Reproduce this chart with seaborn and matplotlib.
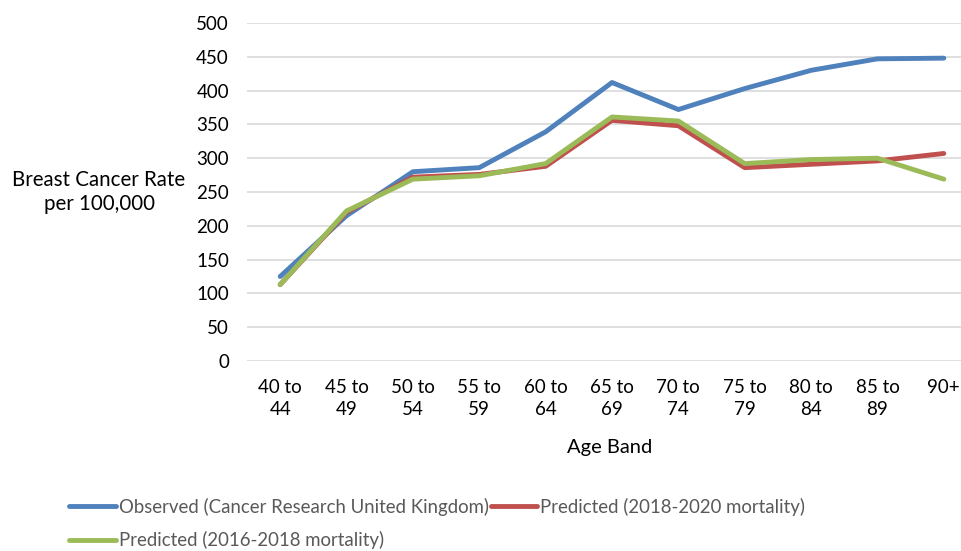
import numpy as np
import pandas as pd
import matplotlib
matplotlib.use("Agg")
import matplotlib.pyplot as plt
import seaborn as sns

# Age bands and breast cancer rates per 100,000
age_bands = ["40 to\n44", "45 to\n49", "50 to\n54", "55 to\n59", "60 to\n64",
             "65 to\n69", "70 to\n74", "75 to\n79", "80 to\n84", "85 to\n89", "90+"]
observed = [125, 215, 280, 286, 339, 412, 372, 403, 430, 447, 448]
predicted_2018_2020 = [113, 220, 272, 276, 288, 356, 348, 286, 291, 296, 307]
predicted_2016_2018 = [113, 222, 269, 274, 292, 361, 355, 292, 298, 300, 269]

series_names = ["Observed (Cancer Research United Kingdom)",
                "Predicted (2018-2020 mortality)",
                "Predicted (2016-2018 mortality)"]
colors = ["#4F81BD", "#C0504D", "#9BBB59"]
y_ticks = list(range(0, 501, 50))

frames = []
for name, vals in zip(series_names, [observed, predicted_2018_2020, predicted_2016_2018]):
    frames.append(pd.DataFrame({"pos": np.arange(len(age_bands)),
                                "band": age_bands, "rate": vals, "series": name}))
df = pd.concat(frames, ignore_index=True)

sns.set_theme(style="white")
plt.rcParams["font.family"] = ["Lato", "DejaVu Sans"]

fig = plt.figure(figsize=(9.62, 5.51), dpi=100)
ax = fig.add_axes([247 / 962, 190 / 551, 730 / 962, 338 / 551])

sns.lineplot(data=df, x="pos", y="rate", hue="series", hue_order=series_names,
             palette=colors, linewidth=3.5, ax=ax, sort=False,
             solid_capstyle="round", legend=False)

ax.set_xlim(-0.5, len(age_bands) - 0.5)
ax.set_ylim(0, 500)
ax.set_yticks(y_ticks)
ax.set_yticklabels([str(v) for v in y_ticks], fontsize=13.5, color="#000000")
ax.set_xticks(np.arange(len(age_bands)))
ax.set_xticklabels(age_bands, fontsize=13.5, color="#000000", linespacing=1.35)
ax.tick_params(axis="both", length=0)
ax.tick_params(axis="y", pad=13)
ax.tick_params(axis="x", pad=13)
ax.grid(axis="y", color="#D9D9D9", linewidth=1.2)
ax.set_axisbelow(True)
for sp in ax.spines.values():
    sp.set_visible(False)

ax.set_xlabel("Age Band", fontsize=14.5, color="#000000")
ax.set_ylabel("Breast Cancer Rate\nper 100,000", fontsize=14.8, color="#000000",
              rotation=0, ha="center", va="center", linespacing=1.25)
ax.yaxis.set_label_coords((99 - 247) / 730, 0.5)
ax.xaxis.set_label_coords((610 - 247) / 730, -0.232)

# legend fills column by column: observed and 2016-2018 in the first column
order = [0, 2, 1]
handles = [plt.Line2D([], [], color=colors[i], linewidth=3.5, solid_capstyle="round")
           for i in order]
labels = [series_names[i] for i in order]
fig.legend(handles, labels, loc="upper left", bbox_to_anchor=(62 / 962, 1 - 490 / 551),
           ncol=2, frameon=False, fontsize=13.4, labelcolor="#595959",
           handlelength=2.5, handletextpad=0.15, columnspacing=0.1,
           labelspacing=0.85, borderaxespad=0)

fig.savefig("out.png", dpi=100)
